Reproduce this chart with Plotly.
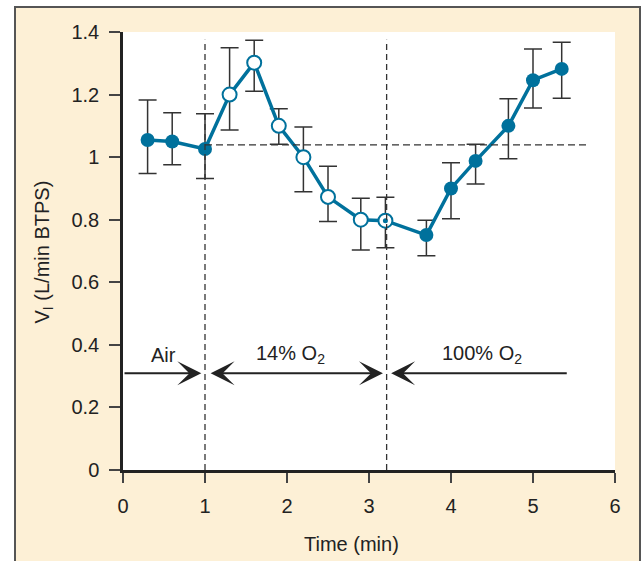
import plotly.graph_objects as go

# ---- data ----
time_min = [0.3, 0.6, 1.0, 1.3, 1.6, 1.9, 2.2, 2.5, 2.9, 3.2, 3.7, 4.0, 4.3, 4.7, 5.0, 5.35]
vi = [1.055, 1.05, 1.026, 1.20, 1.302, 1.10, 1.0, 0.873, 0.80, 0.797, 0.751, 0.90, 0.988, 1.10, 1.246, 1.282]
err_hi = [1.183, 1.142, 1.139, 1.35, 1.374, 1.155, 1.096, 0.971, 0.869, 0.872, 0.798, 0.982, 1.041, 1.187, 1.346, 1.367]
err_lo = [0.948, 0.976, 0.932, 1.087, 1.211, 1.041, 0.889, 0.794, 0.703, 0.71, 0.685, 0.803, 0.914, 0.995, 1.157, 1.188]
# marker style per point: 'f' filled, 'o' open, 'd' open with dot
point_style = ['f', 'f', 'f', 'o', 'o', 'o', 'o', 'o', 'o', 'd', 'f', 'f', 'f', 'f', 'f', 'f']

baseline_level = 1.039
phase_changes = [1.0, 3.215]
phase_labels = ["Air", "14% O<sub>2</sub>", "100% O<sub>2</sub>"]
phase_label_x = [0.49, 2.04, 4.38]
arrow_y = 0.309

x_ticks = [0, 1, 2, 3, 4, 5, 6]
y_ticks = [0, 0.2, 0.4, 0.6, 0.8, 1.0, 1.2, 1.4]
y_tick_text = ["0", "0.2", "0.4", "0.6", "0.8", "1", "1.2", "1.4"]

BLUE = "#00719C"
BEIGE = "#FDF0D6"
DARK = "#222222"
FONT = "Arial"
FS = 20

fig = go.Figure()

# error bars (drawn first, underneath)
fig.add_trace(go.Scatter(
    x=time_min, y=vi, mode="markers",
    marker=dict(size=1, opacity=0),
    error_y=dict(type="data", symmetric=False,
                 array=[h - v for h, v in zip(err_hi, vi)],
                 arrayminus=[v - l for l, v in zip(err_lo, vi)],
                 color="#333333", thickness=1.5, width=9),
    hoverinfo="skip", showlegend=False))

# connecting line
fig.add_trace(go.Scatter(x=time_min, y=vi, mode="lines",
                         line=dict(color=BLUE, width=3.5),
                         showlegend=False, hoverinfo="skip"))

fx = [t for t, s in zip(time_min, point_style) if s == 'f']
fy = [v for v, s in zip(vi, point_style) if s == 'f']
ox = [t for t, s in zip(time_min, point_style) if s in ('o', 'd')]
oy = [v for v, s in zip(vi, point_style) if s in ('o', 'd')]
dx = [t for t, s in zip(time_min, point_style) if s == 'd']
dy = [v for v, s in zip(vi, point_style) if s == 'd']

fig.add_trace(go.Scatter(x=fx, y=fy, mode="markers",
                         marker=dict(size=14, color=BLUE, line=dict(width=0)),
                         showlegend=False))
fig.add_trace(go.Scatter(x=ox, y=oy, mode="markers",
                         marker=dict(size=14, color="white", line=dict(color=BLUE, width=2)),
                         showlegend=False))
fig.add_trace(go.Scatter(x=dx, y=dy, mode="markers",
                         marker=dict(size=5, color=BLUE, line=dict(width=0)),
                         showlegend=False))

W, H = 641, 561
ml, mr, mt, mb = 123, 26, 32, 91
pw, ph = W - ml - mr, H - mt - mb


def px_x(p):
    return (p - ml) / pw


def px_y(p):
    return (H - mb - p) / ph


shapes = [
    # beige framed panel
    dict(type="rect", xref="paper", yref="paper", layer="below",
         x0=px_x(15), x1=px_x(640), y0=px_y(570), y1=px_y(7),
         fillcolor=BEIGE, line=dict(color="#555555", width=2)),
    # white plot area
    dict(type="rect", xref="x", yref="y", layer="below",
         x0=0, x1=6.02, y0=0, y1=1.4, fillcolor="white", line=dict(width=0)),
    # horizontal dashed baseline
    dict(type="line", xref="x", yref="y", x0=1.0, x1=5.65,
         y0=baseline_level, y1=baseline_level,
         line=dict(color="#333333", width=1.3, dash="7px,4px")),
]
for xc in phase_changes:
    shapes.append(dict(type="line", xref="x", yref="y", x0=xc, x1=xc,
                       y0=0, y1=1.375,
                       line=dict(color="#333333", width=1.3, dash="6px,4px")))

annotations = []
# phase arrows
arrow_common = dict(xref="x", yref="y", axref="x", ayref="y", text="",
                    showarrow=True, arrowcolor=DARK, arrowwidth=2,
                    arrowhead=3, arrowsize=2.0, startarrowhead=3, startarrowsize=2.0)
annotations.append(dict(x=0.955, y=arrow_y, ax=0.0, ay=arrow_y,
                        arrowside="end", **arrow_common))
annotations.append(dict(x=3.17, y=arrow_y, ax=1.05, ay=arrow_y,
                        arrowside="end+start", **arrow_common))
annotations.append(dict(x=3.27, y=arrow_y, ax=5.43, ay=arrow_y,
                        arrowside="end", **arrow_common))
for lbl, lx in zip(phase_labels, phase_label_x):
    annotations.append(dict(x=lx, y=0.368, xref="x", yref="y", text=lbl,
                            showarrow=False, font=dict(size=FS, color=DARK, family=FONT)))

# axis titles
annotations.append(dict(x=px_x(28), y=px_y(252), xref="paper", yref="paper",
                        text="V<sub>I</sub> (L/min BTPS)", textangle=-90, showarrow=False,
                        font=dict(size=FS, color=DARK, family=FONT)))
annotations.append(dict(x=px_x(351), y=px_y(557), xref="paper", yref="paper",
                        text="Time (min)", showarrow=False,
                        font=dict(size=FS, color=DARK, family=FONT)))

fig.update_layout(
    width=W, height=H,
    margin=dict(l=ml, r=mr, t=mt, b=mb, pad=0),
    paper_bgcolor="white", plot_bgcolor="rgba(0,0,0,0)",
    font=dict(family=FONT, size=FS, color=DARK),
    shapes=shapes, annotations=annotations, showlegend=False,
)
fig.update_xaxes(range=[0, 6], tickvals=x_ticks, showgrid=False, zeroline=False,
                 showline=True, linecolor=DARK, linewidth=2.5,
                 ticks="outside", ticklen=10, tickwidth=1.5, tickcolor="#444444",
                 ticklabelstandoff=6, tickfont=dict(size=FS, color=DARK, family=FONT))
fig.update_yaxes(range=[0, 1.4], tickvals=y_ticks, ticktext=y_tick_text,
                 showgrid=False, zeroline=False,
                 showline=True, linecolor=DARK, linewidth=2.5,
                 ticks="outside", ticklen=11, tickwidth=1.5, tickcolor="#444444",
                 ticklabelstandoff=6, tickfont=dict(size=FS, color=DARK, family=FONT))

fig.write_html("out.html")
